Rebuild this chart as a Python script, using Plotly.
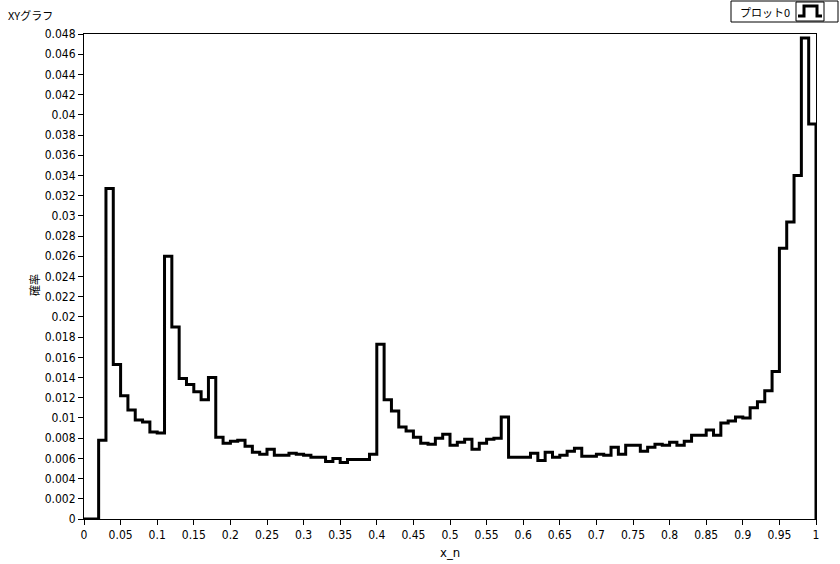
import numpy as np
import plotly.graph_objects as go

# ---- data ----
n_bins = 100
probability = [
    0.0, 0.0, 0.0078, 0.0327, 0.0153, 0.0122, 0.0108, 0.0098, 0.0096, 0.0086,
    0.0085, 0.0260, 0.0190, 0.0139, 0.0133, 0.0126, 0.0118, 0.0140, 0.0081, 0.0075,
    0.0077, 0.0078, 0.0072, 0.0066, 0.0064, 0.0069, 0.0063, 0.0063, 0.0065, 0.0064,
    0.0063, 0.0061, 0.0061, 0.0057, 0.0060, 0.0056, 0.0059, 0.0059, 0.0059, 0.0064,
    0.0173, 0.0118, 0.0107, 0.0091, 0.0087, 0.0081, 0.0075, 0.0074, 0.0080, 0.0084,
    0.0073, 0.0076, 0.0079, 0.0069, 0.0075, 0.0079, 0.0080, 0.0101, 0.0061, 0.0061,
    0.0061, 0.0065, 0.0058, 0.0066, 0.0061, 0.0063, 0.0067, 0.0070, 0.0062, 0.0062,
    0.0064, 0.0063, 0.0071, 0.0064, 0.0073, 0.0073, 0.0067, 0.0071, 0.0074, 0.0073,
    0.0076, 0.0073, 0.0077, 0.0083, 0.0083, 0.0088, 0.0083, 0.0095, 0.0097, 0.0101,
    0.0100, 0.0110, 0.0116, 0.0127, 0.0146, 0.0268, 0.0294, 0.0340, 0.0476, 0.0391,
]
x_tick_vals = [round(0.05 * k, 2) for k in range(21)]
x_tick_text = ["0", "0.05", "0.1", "0.15", "0.2", "0.25", "0.3", "0.35", "0.4", "0.45",
               "0.5", "0.55", "0.6", "0.65", "0.7", "0.75", "0.8", "0.85", "0.9", "0.95", "1"]
y_tick_vals = [round(0.002 * k, 3) for k in range(25)]
y_tick_text = ["0"] + ["%g" % v for v in y_tick_vals[1:]]

bin_edges = np.linspace(0.0, 1.0, n_bins + 1)
step_y = probability + [0.0]

# ---- layout geometry (pixels, page coords; body margin removed by post_script) ----
W, H = 840, 564
PAGE_L, PAGE_R, PAGE_T, PAGE_B = 84, 816, 34, 519
L = PAGE_L
T = PAGE_T
PW = PAGE_R - PAGE_L
PH = PAGE_B - PAGE_T
R = W - L - PW
B = H - T - PH


def px(xp):
    return (xp - PAGE_L) / PW


def py(yp):
    return (PAGE_B - yp) / PH


FONT = "Liberation Sans Narrow, DejaVu Sans Condensed, Arial Narrow, sans-serif"
CJK = "Noto Sans CJK JP, sans-serif"

fig = go.Figure()
fig.add_trace(go.Scatter(
    x=bin_edges, y=step_y, mode="lines", line_shape="hv",
    line=dict(color="black", width=3), name="プロット0", showlegend=False,
    hoverinfo="skip",
))

fig.update_layout(
    width=W, height=H,
    margin=dict(l=L, r=R, t=T, b=B, pad=0, autoexpand=False),
    paper_bgcolor="white", plot_bgcolor="white",
    font=dict(family=FONT, size=12, color="black"),
    xaxis=dict(
        range=[0, 1], tickvals=x_tick_vals, ticktext=x_tick_text,
        showgrid=False, zeroline=False, showline=True, linecolor="black",
        linewidth=1, mirror=True, ticks="outside", ticklen=5, tickcolor="black",
        tickfont=dict(family=FONT, size=12), automargin=False, fixedrange=True,
    ),
    yaxis=dict(
        range=[0, 0.048], tickvals=y_tick_vals, ticktext=y_tick_text,
        showgrid=False, zeroline=False, showline=True, linecolor="black",
        linewidth=1, mirror=True, ticks="outside", ticklen=5, tickcolor="black",
        tickfont=dict(family=FONT, size=12), automargin=False, fixedrange=True,
    ),
    showlegend=False,
)

annotations = [
    dict(text="XYグラフ", xref="paper", yref="paper", x=px(6), y=py(15),
         xanchor="left", yanchor="middle", showarrow=False,
         font=dict(family=CJK, size=11, color="black")),
    dict(text="確率", xref="paper", yref="paper", x=px(34), y=py(285),
         xanchor="center", yanchor="middle", textangle=-90, showarrow=False,
         font=dict(family=CJK, size=11, color="black")),
    dict(text="x_n", xref="paper", yref="paper", x=px(450), y=py(552),
         xanchor="center", yanchor="middle", showarrow=False,
         font=dict(family=FONT, size=13, color="black")),
    dict(text="プロット0", xref="paper", yref="paper", x=px(765), y=py(12),
         xanchor="center", yanchor="middle", showarrow=False,
         font=dict(family=CJK, size=11, color="black")),
]

shapes = [
    dict(type="rect", xref="paper", yref="paper", x0=px(731), x1=px(838),
         y0=py(22), y1=py(1), line=dict(color="black", width=1), fillcolor="white", layer="above"),
    dict(type="rect", xref="paper", yref="paper", x0=px(796), x1=px(824),
         y0=py(21), y1=py(2), line=dict(color="black", width=1), fillcolor="white", layer="above"),
    dict(type="path", xref="paper", yref="paper",
         path="M %f,%f L %f,%f L %f,%f L %f,%f L %f,%f L %f,%f" % (
             px(798), py(16), px(804), py(16), px(804), py(6),
             px(817), py(6), px(817), py(16), px(822), py(16)),
         line=dict(color="black", width=3), layer="above"),
]

fig.update_layout(annotations=annotations, shapes=shapes)
fig.write_html("out.html", config={"displayModeBar": False, "responsive": False},
               post_script="document.body.style.margin='0px';")
